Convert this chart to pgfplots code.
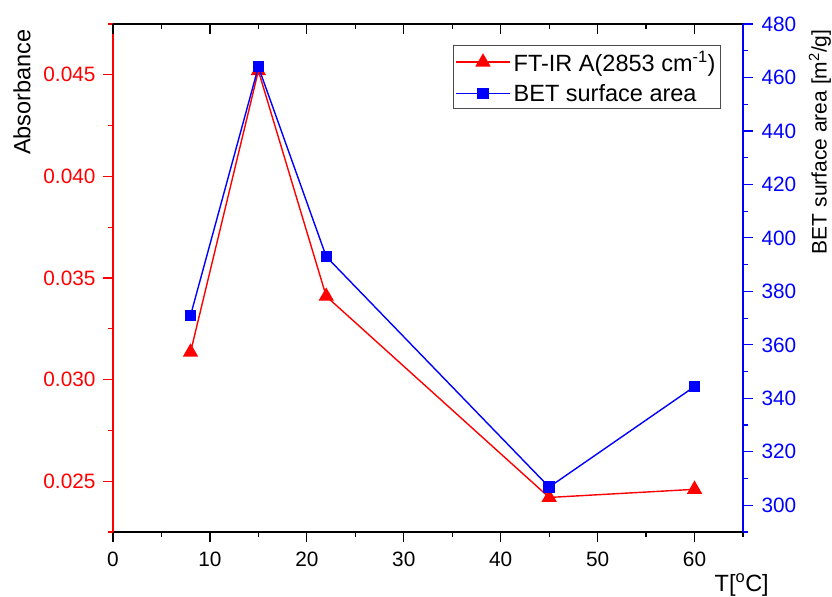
\documentclass[border=0pt]{standalone}
\usepackage{pgfplots}
\pgfplotsset{compat=1.18}
\usepackage{fontspec}
\setmainfont{Liberation Sans}
\definecolor{myred}{RGB}{255,0,0}
\definecolor{myblue}{RGB}{0,0,255}
\newcommand{\bigf}{\fontsize{23.5bp}{28bp}\selectfont}
\begin{document}
\begin{tikzpicture}[font=\fontsize{20.8bp}{25bp}\selectfont]
\pgfplotsset{
  every axis/.append style={
    scale only axis, width=630bp, height=508bp,
    xmin=0, xmax=65,
    /pgf/number format/assume math mode=true,
    major tick length=10bp, minor tick length=5bp,
  }
}
% left axis (red)
\begin{axis}[name=ax,
  axis x line*=bottom, axis y line*=left,
  tick align=outside,
  ymin=0.0225, ymax=0.0475,
  xtick={0,10,...,60}, minor xtick={5,15,...,65},
  ytick={0.025,0.030,0.035,0.040,0.045},
  minor ytick={0.0225,0.0275,0.0325,0.0375,0.0425,0.0475},
  yticklabel style={/pgf/number format/fixed,/pgf/number format/precision=3,/pgf/number format/fixed zerofill, text=myred, xshift=-4bp},
  xticklabel style={yshift=-6bp},
  scaled y ticks=false,
  x axis line style={black, line width=1.2bp},
  y axis line style={myred, line width=1.2bp},
  x tick style={black, line width=1.2bp},
  y tick style={myred, line width=1.2bp},
  ylabel={Absorbance},
  ylabel style={font=\bigf, at={(axis description cs:-0.1444,0.866)}, anchor=center},
  xlabel={T[\textsuperscript{o}C]},
  xlabel style={font=\bigf, at={(axis description cs:0.998,-0.1043)}, anchor=center},
]
\addplot[myred, line width=1.4bp, mark=triangle*, mark size=7.5bp, mark options={solid}] coordinates {
 (8,0.03135) (15,0.0452) (22,0.0341) (45,0.0242) (60,0.0246)};
\end{axis}
% top axis ticks inward
\begin{axis}[
  axis x line*=top, axis y line=none,
  tick align=inside,
  ymin=0, ymax=1,
  xtick={0,10,...,60}, minor xtick={5,15,...,65},
  xticklabels={},
  x axis line style={black, line width=1.2bp},
  x tick style={black, line width=1.2bp},
]
\end{axis}
% right axis (blue)
\begin{axis}[
  axis x line=none, axis y line*=right,
  tick align=outside,
  ymin=290, ymax=480,
  ytick={300,320,...,480}, minor ytick={290,310,...,470},
  yticklabel style={text=myblue, xshift=5bp},
  y axis line style={myblue, line width=1.2bp},
  y tick style={myblue, line width=1.2bp},
  ylabel={BET surface area [m\textsuperscript{2}/g]},
  ylabel style={font=\fontsize{21bp}{25bp}\selectfont, at={(axis description cs:1.1222,0.768)}, anchor=center},
  legend style={font=\bigf, at={(0.965,0.959)}, anchor=north east, draw=black!70, line width=0.8bp,
    inner xsep=2bp, inner ysep=4bp, row sep=7bp,
    nodes={inner xsep=3bp, inner ysep=2bp, anchor=west}},
  legend cell align=left,
  legend image code/.code={\draw[#1, mark repeat=2, mark phase=2] plot coordinates {(0bp,0bp) (27bp,0bp) (54bp,0bp)};},
]
\addlegendimage{myred, line width=1.4bp, mark=triangle*, mark size=7.5bp, mark options={solid}}
\addlegendentry{FT-IR A(2853 cm\textsuperscript{-1})}
\addplot[myblue, line width=1.4bp, mark=square*, mark size=5bp, mark options={solid}] coordinates {
 (8,371) (15,464) (22,393) (45,306.8) (60,344.4)};
\addlegendentry{BET surface area}
\end{axis}
\pgfresetboundingbox
\path (ax.south west) ++(-113bp,-65bp) rectangle ++(832bp,597bp);
\end{tikzpicture}
\end{document}
